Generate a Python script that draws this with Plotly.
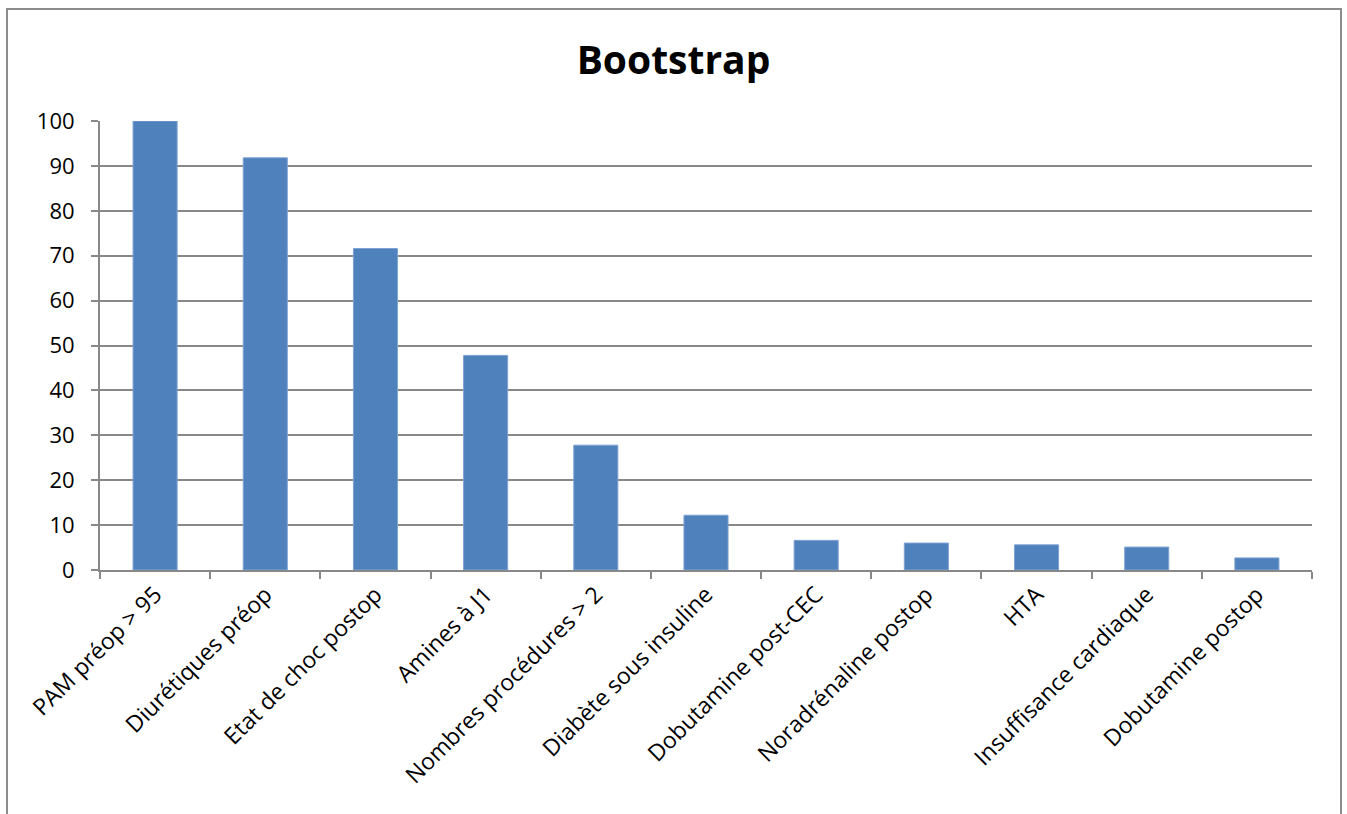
import plotly.graph_objects as go

categories = [
    "PAM préop > 95",
    "Diurétiques préop",
    "Etat de choc postop",
    "Amines à J1",
    "Nombres procédures > 2",
    "Diabète sous insuline",
    "Dobutamine post-CEC",
    "Noradrénaline postop",
    "HTA",
    "Insuffisance cardiaque",
    "Dobutamine postop",
]
values = [100, 91.8, 71.6, 47.8, 27.8, 12.2, 6.6, 6.0, 5.6, 5.1, 2.7]
y_ticks = list(range(0, 101, 10))

W, H = 1347, 814
L, R, T, B = 100, 35, 121, 244
pw, ph = W - L - R, H - T - B

def px_x(p):
    return (p - L) / pw

def px_y(p):
    return (H - B - p) / ph

GRID = "#888888"
FONT = "Open Sans, Liberation Sans, sans-serif"

fig = go.Figure(
    go.Bar(
        x=categories,
        y=values,
        marker=dict(color="#4F81BD", line=dict(color="#7FA2D2", width=1)),
        width=0.4,
    )
)

fig.update_layout(
    width=W,
    height=H,
    margin=dict(l=L, r=R, t=T, b=B, pad=0),
    paper_bgcolor="white",
    plot_bgcolor="white",
    showlegend=False,
    font=dict(family=FONT, color="black", size=22),
    title=dict(
        text="<b>Bootstrap</b>",
        x=0.5,
        xanchor="center",
        y=1 - 60 / H,
        yanchor="middle",
        font=dict(family=FONT, size=39, color="black"),
    ),
    shapes=[
        dict(
            type="rect",
            xref="paper",
            yref="paper",
            x0=px_x(7),
            x1=px_x(1341),
            y0=px_y(830),
            y1=px_y(9),
            line=dict(color="#8c8c8c", width=2),
            fillcolor="rgba(0,0,0,0)",
            layer="below",
        )
    ],
)

fig.update_xaxes(
    type="category",
    tickangle=-45,
    showgrid=False,
    showline=True,
    linecolor=GRID,
    linewidth=2,
    ticks="outside",
    tickson="boundaries",
    ticklen=7,
    tickwidth=2,
    tickcolor=GRID,
    tickfont=dict(family=FONT, size=23, color="black"),
)

fig.update_yaxes(
    range=[0, 100],
    tickvals=y_ticks,
    showgrid=True,
    gridcolor=GRID,
    gridwidth=2,
    showline=True,
    linecolor=GRID,
    linewidth=2,
    ticks="outside",
    ticklen=7,
    tickwidth=2,
    tickcolor=GRID,
    zeroline=False,
    ticklabelstandoff=12,
    tickfont=dict(family=FONT, size=22, color="black"),
)

fig.write_html("out.html")
